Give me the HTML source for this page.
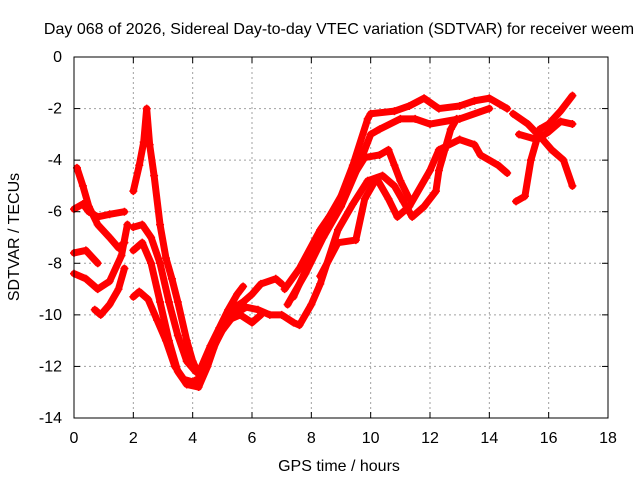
<!DOCTYPE html>
<html><head><meta charset="utf-8"><style>
body{margin:0;background:#fff;}
svg text{font-family:"Liberation Sans",sans-serif;font-size:16px;fill:#000;}
</style></head><body>
<svg id="chart" width="640" height="480" viewBox="0 0 640 480" xmlns="http://www.w3.org/2000/svg">
<rect width="640" height="480" fill="#fff"/>
<g id="grid"></g>
<g id="series"></g>
<rect x="74" y="57" width="534" height="361" fill="none" stroke="#000" stroke-width="1"/>
<g id="ticks"></g>
<text x="339" y="34" text-anchor="middle">Day 068 of 2026, Sidereal Day-to-day VTEC variation (SDTVAR) for receiver weem</text>
<text x="339" y="471" text-anchor="middle">GPS time / hours</text>
<text transform="translate(19,237) rotate(-90)" text-anchor="middle">SDTVAR / TECUs</text>
</svg>
<script>
const xTicks=[0,2,4,6,8,10,12,14,16,18];
const yTicks=[0,-2,-4,-6,-8,-10,-12,-14];
const s1=[[0.1,-4.3],[0.3,-5.0],[0.5,-5.8],[0.8,-6.5],[1.2,-7.0],[1.5,-7.4],[1.7,-7.2]];
const s2=[[0,-5.9],[0.3,-5.7],[0.5,-6.0],[0.8,-6.2],[1.2,-6.1],[1.7,-6.0]];
const s3=[[0,-7.6],[0.4,-7.5],[0.8,-8.0]];
const s4=[[0,-8.4],[0.4,-8.6],[0.8,-9.0],[1.2,-8.7],[1.6,-7.7],[1.8,-6.5]];
const s5=[[0.7,-9.8],[0.9,-10.0],[1.2,-9.6],[1.5,-9.0],[1.7,-8.2]];
const s6=[[2.0,-5.2],[2.2,-4.2],[2.35,-3.3],[2.45,-2.0],[2.55,-3.4],[2.7,-4.6],[2.9,-6.5],[3.1,-7.8],[3.3,-8.6],[3.5,-9.5],[3.8,-11],[4.0,-11.8],[4.2,-12.3],[4.3,-12.0],[4.6,-11.2],[4.9,-10.5],[5.2,-9.8],[5.5,-9.2],[5.7,-8.9]];
const s7=[[2.0,-6.6],[2.3,-6.5],[2.6,-7.0],[2.9,-8.0],[3.2,-9.5],[3.5,-10.8],[3.8,-11.8],[4.1,-12.2],[4.4,-12.1],[4.7,-11.3],[5.0,-10.5],[5.3,-9.8],[5.7,-9.5],[6.0,-9.2],[6.3,-8.8],[6.8,-8.6],[7.0,-8.8]];
const s8=[[2.0,-9.3],[2.2,-9.1],[2.5,-9.4],[2.8,-10.2],[3.1,-11.0],[3.4,-12.0],[3.7,-12.5],[4.0,-12.6],[4.3,-12.4],[4.6,-11.5],[5.0,-10.6],[5.4,-10.0],[5.8,-9.7],[6.2,-9.8],[6.6,-10.0],[7.0,-10.0],[7.4,-10.3],[7.6,-10.4],[8.0,-9.6],[8.3,-8.8],[8.9,-6.7],[9.4,-5.7],[9.9,-4.8],[10.4,-4.6],[10.8,-5.0],[11.1,-5.6],[11.4,-6.2],[11.8,-5.8],[12.2,-5.2],[12.3,-4.4],[12.5,-3.6],[12.7,-2.8],[12.9,-2.4]];
const s9=[[2.0,-7.5],[2.3,-7.2],[2.6,-8.0],[2.9,-9.5],[3.2,-11],[3.5,-12.2],[3.8,-12.7],[4.2,-12.8],[4.5,-12.0],[4.8,-11.0],[5.2,-10.2],[5.6,-10.0],[6.0,-10.3],[6.3,-10.0]];
const s10=[[7.1,-9.0],[7.6,-8.2],[8.3,-6.7],[8.9,-5.7],[9.4,-4.2],[9.9,-2.4],[10.0,-2.2],[10.8,-2.1],[11.3,-1.9],[11.8,-1.6],[12.3,-2.0],[13.0,-1.9],[13.5,-1.7],[14.0,-1.6],[14.6,-2.0]];
const s11=[[7.2,-9.6],[7.8,-8.4],[8.4,-7.0],[9.0,-5.8],[9.6,-4.2],[10.0,-3.0],[10.3,-2.8],[11.0,-2.4],[11.5,-2.4],[12.0,-2.6],[13.0,-2.4],[14.0,-2.0]];
const s12=[[7.4,-9.3],[8.0,-7.8],[8.6,-6.2],[9.2,-5.0],[9.8,-3.9],[10.3,-3.8],[10.6,-3.6],[10.8,-4.2],[11.0,-4.8],[11.3,-5.5]];
const s13=[[8.3,-8.5],[8.9,-7.2],[9.5,-7.1],[9.8,-5.5],[10.2,-4.7],[10.6,-5.5],[10.9,-6.2],[11.3,-5.8],[12.0,-4.4],[12.3,-3.6],[13.0,-3.2],[13.5,-3.4],[13.7,-3.8],[14.3,-4.2],[14.6,-4.5]];
const s14=[[14.9,-5.6],[15.2,-5.4],[15.4,-4.0],[15.7,-2.8],[16.0,-2.6],[16.4,-2.1],[16.8,-1.5]];
const s15=[[14.8,-2.2],[15.3,-2.6],[15.8,-3.2],[16.1,-3.6],[16.5,-4.0],[16.8,-5.0]];
const s16=[[15.0,-3.0],[15.6,-3.2],[16.0,-2.9],[16.4,-2.5],[16.8,-2.6]];
const allSeries=[s1,s2,s3,s4,s5,s6,s7,s8,s9,s10,s11,s12,s13,s14,s15,s16];

const NS="http://www.w3.org/2000/svg";
const X0=74,X1=608,Y0=57,Y1=418;
function xs(t){return X0+(t-0)/(18-0)*(X1-X0);}
function ys(v){return Y0+(0-v)/(0-(-14))*(Y1-Y0);}
const grid=document.getElementById('grid'),ticks=document.getElementById('ticks'),ser=document.getElementById('series');
function mk(tag,attrs,parent){const e=document.createElementNS(NS,tag);for(const k in attrs)e.setAttribute(k,attrs[k]);parent.appendChild(e);return e;}
xTicks.forEach(t=>{
  const x=xs(t);
  if(t>0&&t<18){const g=mk('line',{x1:x,y1:Y0,x2:x,y2:Y1,stroke:'#a0a0a0','stroke-dasharray':'2,3'},grid);
  
  }
  mk('line',{x1:x,y1:Y1,x2:x,y2:Y1-6,stroke:'#000'},ticks);
  mk('line',{x1:x,y1:Y0,x2:x,y2:Y0+6,stroke:'#000'},ticks);
  const l=mk('text',{x:x,y:443,'text-anchor':'middle'},ticks);l.textContent=t;
  
  
});
yTicks.forEach(v=>{
  const y=ys(v);
  if(v<0&&v>-14){const g=mk('line',{x1:X0,y1:y,x2:X1,y2:y,stroke:'#a0a0a0','stroke-dasharray':'2,3'},grid);
  
  }
  mk('line',{x1:X0,y1:y,x2:X0+6,y2:y,stroke:'#000'},ticks);
  mk('line',{x1:X1,y1:y,x2:X1-6,y2:y,stroke:'#000'},ticks);
  const l=mk('text',{x:62,y:y+5,'text-anchor':'end'},ticks);l.textContent=v;
  
  
});
allSeries.forEach((s,i)=>{
  const g=mk('g',{},ser);
  
  
  mk('polyline',{points:s.map(p=>xs(p[0])+','+ys(p[1])).join(' '),fill:'none',stroke:'#f00','stroke-width':7,'stroke-linejoin':'round','stroke-linecap':'round'},g);
  s.forEach(p=>{const x=xs(p[0]),y=ys(p[1]);
    mk('path',{d:`M${x-4},${y}H${x+4}M${x},${y-4}V${y+4}`,stroke:'#f00','stroke-width':1.5},g);});
});
</script>
</body></html>
